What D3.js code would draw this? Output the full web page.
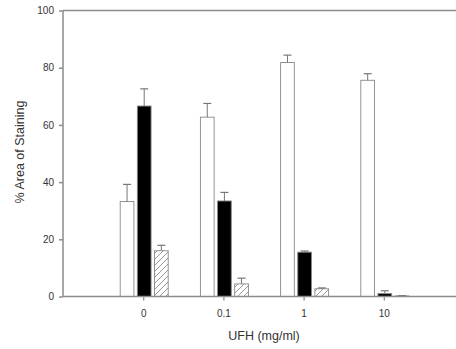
<!DOCTYPE html>
<html>
<head>
<meta charset="utf-8">
<script src="https://cdn.jsdelivr.net/npm/d3@7"></script>
<style>
  body { margin: 0; background: #fff; }
  svg { display: block; font-family: "Liberation Sans", Arial, sans-serif; }
</style>
</head>
<body>
<svg id="chart" width="456" height="349"></svg>
<script>
// UFH concentration groups
const doses = ["0", "0.1", "1", "10"]
const seriesNames = ["white", "black", "hatched"]
// mean % area of staining per series, one value per dose
const whiteVals = [33.2, 62.7, 81.8, 75.6]
const blackVals = [66.6, 33.4, 15.5, 1.0]
const hatchVals = [16.0, 4.4, 2.7, 0.2]
// top of the error bar (mean + SEM)
const whiteErr = [39.2, 67.5, 84.4, 77.9]
const blackErr = [72.6, 36.4, 15.9, 2.0]
const hatchErr = [17.9, 6.4, 3.0, 0.3]
const yTicks = [0, 20, 40, 60, 80, 100]

const svg = d3.select("#chart")
const width = +svg.attr("width")
const height = +svg.attr("height")
const mLeft = 63, mTop = 10.5, mBottom = 296.5, mRight = width

const x = d3.scaleLinear().domain([-1, 3.9]).range([mLeft, mRight])
const y = d3.scaleLinear().domain([0, 100]).range([mBottom, mTop])
const offset = d3.scaleBand().domain(seriesNames).range([-23, 25]).paddingInner(0.2)

const axisColor = "#8c8c8c"
const textColor = "#333"

// hatch pattern
const defs = svg.append("defs")
const pat = defs.append("pattern")
    .attr("id", "hatch")
    .attr("patternUnits", "userSpaceOnUse")
    .attr("width", 6)
    .attr("height", 6)
pat.append("rect").attr("width", 6).attr("height", 6).attr("fill", "#fff")
pat.append("path")
    .attr("d", "M-1,7 L7,-1 M-1,1 L1,-1 M5,7 L7,5")
    .attr("stroke", "#8a8a8a")
    .attr("stroke-width", 0.9)

const series = [
    {name: "white", vals: whiteVals, err: whiteErr, fill: "#fff"},
    {name: "black", vals: blackVals, err: blackErr, fill: "#000"},
    {name: "hatched", vals: hatchVals, err: hatchErr, fill: "url(#hatch)"}
]

// frame lines (left, top)
svg.append("line").attr("x1", mLeft).attr("x2", mLeft).attr("y1", mTop).attr("y2", mBottom)
    .attr("stroke", axisColor).attr("stroke-width", 1.5)
svg.append("line").attr("x1", mLeft).attr("x2", mRight).attr("y1", mTop).attr("y2", mTop)
    .attr("stroke", axisColor).attr("stroke-width", 1.5)

// bars
series.forEach(s => {
    const g = svg.append("g")
    g.selectAll("rect")
        .data(s.vals)
        .enter().append("rect")
        .attr("x", (d, i) => x(i) + offset(s.name))
        .attr("width", offset.bandwidth())
        .attr("y", d => y(d))
        .attr("height", d => y(0) - y(d))
        .attr("fill", s.fill)
        .attr("stroke", "#888")
        .attr("stroke-width", 0.9)

    // error bars
    const eb = g.selectAll("g.err")
        .data(s.err)
        .enter().append("g")
        .attr("class", "err")
    eb.append("line")
        .attr("x1", (d, i) => x(i) + offset(s.name) + offset.bandwidth() / 2)
        .attr("x2", (d, i) => x(i) + offset(s.name) + offset.bandwidth() / 2)
        .attr("y1", (d, i) => y(s.vals[i]))
        .attr("y2", d => y(d))
        .attr("stroke", "#777").attr("stroke-width", 1)
    eb.append("line")
        .attr("x1", (d, i) => x(i) + offset(s.name) + offset.bandwidth() / 2 - 4)
        .attr("x2", (d, i) => x(i) + offset(s.name) + offset.bandwidth() / 2 + 4)
        .attr("y1", d => y(d))
        .attr("y2", d => y(d))
        .attr("stroke", "#777").attr("stroke-width", 1.2)
})

// y axis
const yAxis = svg.append("g")
    .attr("transform", `translate(${mLeft},0)`)
    .call(d3.axisLeft(y).tickValues(yTicks).tickSize(4).tickPadding(5))
yAxis.select(".domain").remove()
yAxis.selectAll("line").attr("stroke", axisColor).attr("stroke-width", 1.5)
yAxis.selectAll("text").attr("fill", textColor).attr("font-size", 10)

// x axis
const xAxis = svg.append("g")
    .attr("transform", `translate(0,${mBottom})`)
    .call(d3.axisBottom(x).tickValues(d3.range(doses.length))
        .tickFormat(i => doses[i]).tickSize(4).tickPadding(9))
xAxis.select(".domain").attr("stroke", axisColor).attr("stroke-width", 1.5)
    .attr("d", `M${mLeft},0H${mRight}`)
xAxis.selectAll("line").attr("stroke", axisColor).attr("stroke-width", 1.2)
xAxis.selectAll("text").attr("fill", textColor).attr("font-size", 10)

// titles
svg.append("text")
    .attr("transform", "translate(24,152) rotate(-90)")
    .attr("text-anchor", "middle")
    .attr("fill", textColor)
    .attr("font-size", 12.5)
    .text("% Area of Staining")

svg.append("text")
    .attr("x", 264)
    .attr("y", 340)
    .attr("text-anchor", "middle")
    .attr("fill", textColor)
    .attr("font-size", 12.5)
    .text("UFH (mg/ml)")
</script>
</body>
</html>
